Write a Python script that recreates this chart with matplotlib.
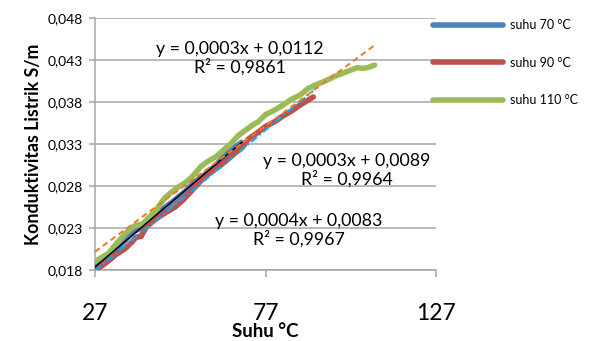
import numpy as np
import matplotlib
matplotlib.use('Agg')
import matplotlib.pyplot as plt

plt.rcParams['font.family'] = ['Lato', 'DejaVu Sans']

# data
x_70 = [27, 30, 33, 36, 38, 41, 44, 47, 50, 53, 56, 59, 62, 65, 68, 70]
y_70 = [0.0183, 0.0193, 0.0204, 0.0216, 0.0225, 0.0231, 0.0242, 0.0253, 0.0262,
        0.0272, 0.0284, 0.0293, 0.0303, 0.0316, 0.0326, 0.0332]

x_90 = [27, 29, 31, 33, 36, 38, 39, 40.5, 42, 44, 46, 48, 50.5, 53, 55.5, 58, 60.5,
        63, 65.5, 68, 70, 72, 74.5, 77, 79.5, 82, 84.5, 87, 89, 91]
y_90 = [0.0180, 0.0185, 0.0191, 0.0198, 0.0206, 0.0214, 0.0219, 0.0220, 0.0231,
        0.0238, 0.0244, 0.0249, 0.0255, 0.0264, 0.0275, 0.0286, 0.0295, 0.0302,
        0.0310, 0.0319, 0.0325, 0.0336, 0.0343, 0.0351, 0.0356, 0.0363, 0.0369,
        0.0376, 0.0381, 0.0386]

x_110 = [27, 29, 31, 33, 36, 38, 39, 41, 43, 45, 47.5, 49.5, 51.5, 53.5, 55.5, 58,
         60, 62.5, 65, 67, 69, 71, 73, 75, 77, 79.5, 82, 84.5, 87, 89.5, 92, 94.5,
         97, 99.5, 102, 104, 105.5, 107, 109]
y_110 = [0.0190, 0.0195, 0.0200, 0.0210, 0.0224, 0.0231, 0.0233, 0.0235, 0.0243,
         0.0252, 0.0266, 0.0273, 0.0279, 0.0284, 0.0291, 0.0303, 0.0309, 0.0315,
         0.0324, 0.0331, 0.0340, 0.0346, 0.0352, 0.0357, 0.0365, 0.0370, 0.0376,
         0.0383, 0.0388, 0.0396, 0.0401, 0.0405, 0.0410, 0.0414, 0.0418, 0.0421,
         0.0420, 0.0421, 0.0424]

labels = ['suhu 70 °C', 'suhu 90 °C', 'suhu 110 °C']
colors = ['#4F81BD', '#C0504D', '#9BBB59']

eq_texts = ['y = 0,0003x + 0,0112\nR² = 0,9861',
            'y = 0,0003x + 0,0089\nR² = 0,9964',
            'y = 0,0004x + 0,0083\nR² = 0,9967']
eq_pos = [(69.6, 0.0432), (100.9, 0.0299), (86.7, 0.0227)]

x_ticks = [27, 77, 127]
y_ticks = [0.018, 0.023, 0.028, 0.033, 0.038, 0.043, 0.048]

fig = plt.figure(figsize=(5.92, 3.41), dpi=100)
ax = fig.add_axes([0.1605, 0.2082, 0.576, 0.739])

for xs, ys, c, lab in zip([x_70, x_90, x_110], [y_70, y_90, y_110], colors, labels):
    ax.plot(xs, ys, color=c, lw=4, solid_capstyle='round', solid_joinstyle='round',
            label=lab, zorder=3)

# linear trendlines (like Excel)
trend_styles = [dict(color='black', lw=1.1, ls='-'),
                dict(color='#00B0F0', lw=1.4, ls=(0, (4, 1.5, 1, 1.5))),
                dict(color='#F07820', lw=1.4, ls=(0, (3, 2)))]
for xs, ys, st in zip([x_70, x_90, x_110], [y_70, y_90, y_110], trend_styles):
    k, b = np.polyfit(xs, ys, 1)
    xx = np.array([xs[0], xs[-1]])
    ax.plot(xx, k * xx + b, zorder=4, **st)

for t, (tx, ty) in zip(eq_texts, eq_pos):
    ax.text(tx, ty, t, ha='center', va='center', fontsize=12.8, linespacing=1.1,
            zorder=5)

ax.set_xlim(27, 127)
ax.set_ylim(0.018, 0.048)
ax.set_xticks(x_ticks)
ax.set_xticklabels([str(v) for v in x_ticks], fontsize=16.5)
ax.set_yticks(y_ticks)
ax.set_yticklabels([f'{v:.3f}'.replace('.', ',') for v in y_ticks], fontsize=10)
ax.yaxis.grid(True, color='#A6A6A6', lw=1.1)
ax.set_axisbelow(True)
for s in ['top', 'right']:
    ax.spines[s].set_visible(False)
for s in ['left', 'bottom']:
    ax.spines[s].set_color('#A6A6A6')
    ax.spines[s].set_linewidth(1.1)
ax.tick_params(axis='x', direction='out', length=5, width=1.1, color='#A6A6A6', pad=19)
ax.tick_params(axis='y', direction='out', length=4.5, width=1.1, color='#A6A6A6', pad=4)

ax.set_xlabel('Suhu °C', fontsize=13.5, fontweight='bold', labelpad=-1)
ax.set_ylabel('Konduktivitas Listrik S/m', fontsize=12.8, fontweight='bold', labelpad=4)

fig.legend(loc='upper left', bbox_to_anchor=(0.713, 0.977), frameon=False,
           fontsize=9, handlelength=5.6, labelspacing=2.05, handletextpad=0.55)

fig.savefig('out.png', dpi=100)
